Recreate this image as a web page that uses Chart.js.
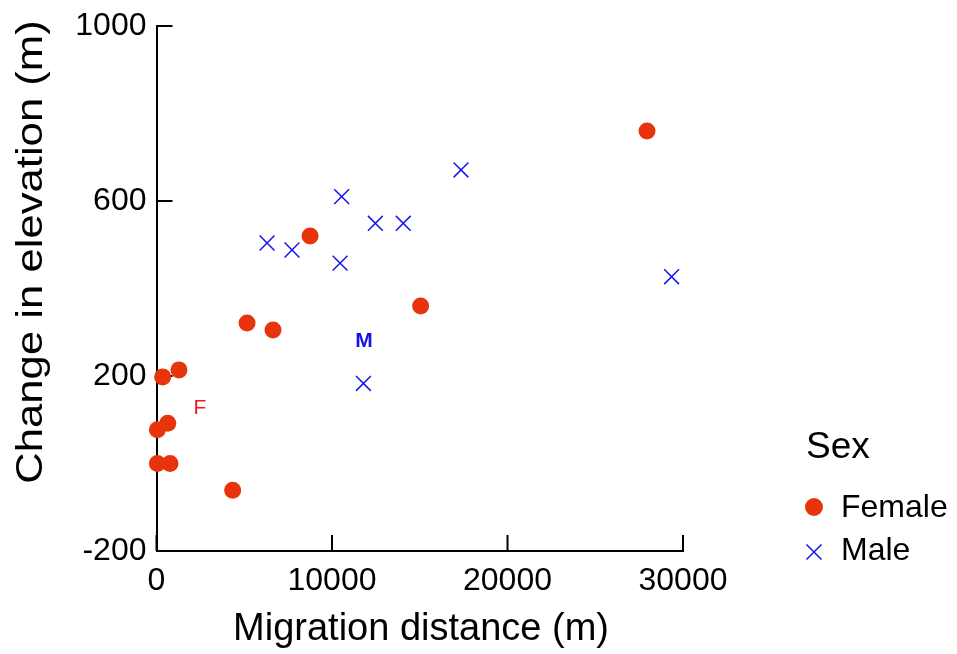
<!DOCTYPE html>
<html>
<head>
<meta charset="utf-8">
<script src="https://cdn.jsdelivr.net/npm/chart.js@4.4.1/dist/chart.umd.min.js"></script>
<style>
  html, body { margin: 0; padding: 0; background: #fff; }
  #wrap { width: 957px; height: 654px; }
</style>
</head>
<body>
<div id="wrap"><canvas id="chart"></canvas></div>
<script>
// Female points: migration distance (m) and change in elevation (m)
const femaleDistance = [350, 1280, 640, 50, 50, 770, 4340, 5160, 6640, 8750, 15050, 27950];
const femaleElevation = [198, 214, 92, 77, 0, 0, -61, 321, 305, 520, 360, 760];

// Male points
const maleDistance = [17350, 10550, 12470, 14060, 10460, 11790, 6300, 7720, 29350];
const maleElevation = [671, 610, 549, 549, 458, 183, 504, 488, 427];

const xTicks = [0, 10000, 20000, 30000];
const yTicks = [-200, 200, 600, 1000];

// group labels placed in data coordinates
const groupLabels = [
    { text: 'F', x: 2480, y: 127, color: '#f01c1c', weight: 'normal' },
    { text: 'M', x: 11820, y: 280, color: '#1414e6', weight: 'bold' }
];

const FONT = '"Liberation Sans", Arial, Helvetica, sans-serif';
const femaleColor = '#e8340a';
const maleColor = '#1616e8';

function toPoints(xs, ys) {
    return xs.map((x, i) => ({ x: x, y: ys[i] }));
}

// text stretched along its reading direction
function wideText(ctx, text, x, y, angle, sx) {
    ctx.save();
    ctx.translate(x, y);
    ctx.rotate(angle);
    ctx.scale(sx, 1);
    ctx.fillText(text, 0, 0);
    ctx.restore();
}

const extras = {
    id: 'extras',
    // inward tick marks, under the points
    beforeDatasetsDraw(chart) {
        const ctx = chart.ctx;
        const xs = chart.scales.x;
        const ys = chart.scales.y;
        const area = chart.chartArea;
        ctx.save();
        ctx.strokeStyle = '#000';
        ctx.lineWidth = 2;
        xTicks.forEach(v => {
            const px = xs.getPixelForValue(v);
            ctx.beginPath();
            ctx.moveTo(px, area.bottom);
            ctx.lineTo(px, area.bottom - 16);
            ctx.stroke();
        });
        yTicks.forEach(v => {
            const py = ys.getPixelForValue(v);
            ctx.beginPath();
            ctx.moveTo(area.left, py);
            ctx.lineTo(area.left + 16, py);
            ctx.stroke();
        });
        ctx.restore();
    },
    // axis titles, group labels and the legend
    afterDraw(chart) {
        const ctx = chart.ctx;
        const xs = chart.scales.x;
        const ys = chart.scales.y;
        ctx.save();
        ctx.fillStyle = '#000';
        ctx.textAlign = 'center';
        ctx.textBaseline = 'alphabetic';
        ctx.font = '38px ' + FONT;
        ctx.fillText('Migration distance (m)', 421, 640);
        ctx.font = '37px ' + FONT;
        wideText(ctx, 'Change in elevation (m)', 42, 252, -Math.PI / 2, 1.18);

        ctx.textBaseline = 'middle';
        groupLabels.forEach(l => {
            ctx.fillStyle = l.color;
            ctx.font = l.weight + ' 21px ' + FONT;
            ctx.fillText(l.text, xs.getPixelForValue(l.x), ys.getPixelForValue(l.y));
        });

        // legend
        ctx.textAlign = 'left';
        ctx.fillStyle = '#000';
        ctx.textBaseline = 'alphabetic';
        ctx.font = '37px ' + FONT;
        ctx.fillText('Sex', 806, 458);

        ctx.textBaseline = 'middle';
        ctx.font = '32px ' + FONT;
        ctx.fillStyle = femaleColor;
        ctx.beginPath();
        ctx.arc(814, 507, 9, 0, Math.PI * 2);
        ctx.fill();
        ctx.fillStyle = '#000';
        ctx.fillText('Female', 841, 508);

        ctx.strokeStyle = maleColor;
        ctx.lineWidth = 1.5;
        ctx.beginPath();
        ctx.moveTo(806.5, 544.5); ctx.lineTo(821.5, 559.5);
        ctx.moveTo(821.5, 544.5); ctx.lineTo(806.5, 559.5);
        ctx.stroke();
        ctx.fillStyle = '#000';
        ctx.fillText('Male', 841, 551);
        ctx.restore();
    }
};

new Chart(document.getElementById('chart'), {
    type: 'scatter',
    data: {
        datasets: [{
            label: 'Female',
            data: toPoints(femaleDistance, femaleElevation),
            backgroundColor: femaleColor,
            borderColor: femaleColor,
            pointStyle: 'circle',
            pointRadius: 8.5,
            pointBorderWidth: 0,
            clip: false
        }, {
            label: 'Male',
            data: toPoints(maleDistance, maleElevation),
            backgroundColor: maleColor,
            borderColor: maleColor,
            pointStyle: 'crossRot',
            pointRadius: 10.5,
            pointBorderWidth: 1.5,
            clip: false
        }]
    },
    options: {
        responsive: true,
        maintainAspectRatio: false,
        animation: false,
        layout: { padding: { top: 26, right: 274, left: 0, bottom: 0 } },
        plugins: {
            legend: { display: false },
            tooltip: { enabled: false }
        },
        scales: {
            x: {
                type: 'linear',
                min: 0,
                max: 30000,
                afterBuildTicks(scale) { scale.ticks = xTicks.map(v => ({ value: v })); },
                afterFit(scale) {
                    scale.height = 103;
                    scale.paddingLeft = 0;
                    scale.paddingRight = 0;
                },
                grid: { display: false, drawTicks: false },
                border: { display: true, color: '#000', width: 2 },
                ticks: {
                    color: '#000',
                    padding: 11,
                    maxRotation: 0,
                    font: { family: FONT, size: 32 },
                    callback: v => String(v)
                },
                title: { display: false }
            },
            y: {
                type: 'linear',
                min: -200,
                max: 1000,
                afterBuildTicks(scale) { scale.ticks = yTicks.map(v => ({ value: v })); },
                afterFit(scale) {
                    scale.width = 156.5;
                    scale.paddingTop = 0;
                    scale.paddingBottom = 0;
                },
                grid: { display: false, drawTicks: false },
                border: { display: true, color: '#000', width: 2 },
                ticks: {
                    color: '#000',
                    padding: 10,
                    font: { family: FONT, size: 32 },
                    callback: v => String(v)
                },
                title: { display: false }
            }
        }
    },
    plugins: [extras]
});
</script>
</body>
</html>
